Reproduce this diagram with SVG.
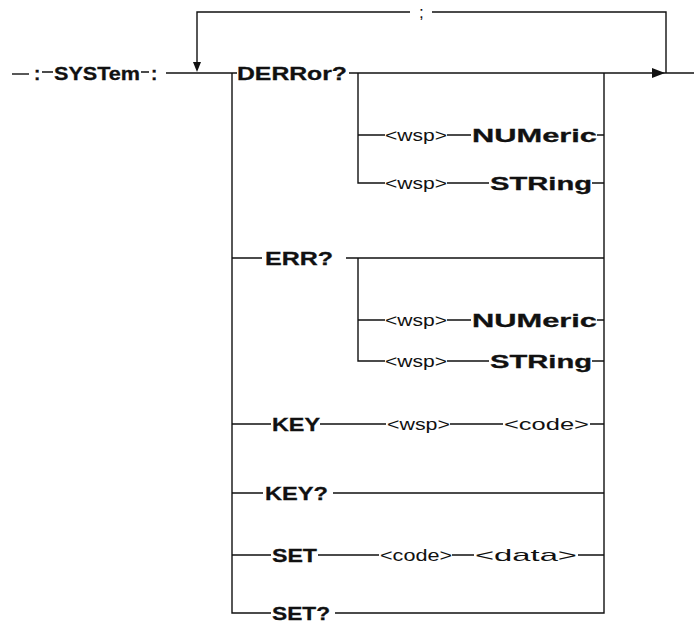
<svg xmlns="http://www.w3.org/2000/svg" width="694" height="639" viewBox="0 0 694 639">
<defs>
<style>
.ln{stroke:#111;stroke-width:1.4;fill:none}
.ah{fill:#111;stroke:none}
.b{font-family:"Liberation Sans",Arial,sans-serif;font-weight:bold;font-size:19px;fill:#111;stroke:#111;stroke-width:0.3}
.r{font-family:"Liberation Sans",Arial,sans-serif;font-size:17px;fill:#111}
</style>
</defs>
<rect width="694" height="639" fill="#fff"/>
<g id="connectors">
<path class="ln" d="M12,74 H29"/>
<path class="ln" d="M42,72 H53 M141,72 H149"/>
<path class="ln" d="M166,73 H237"/>
<path class="ln" d="M666,73 V12 H432 M410,12 H197 V64"/>
<polygon class="ah" points="193,62 201,62 197,72"/>
<path class="ln" d="M232,73 V613 H271"/>
<path class="ln" d="M335,613 H604 V73"/>
<path class="ln" d="M349,73 H694"/>
<polygon class="ah" points="652,68 652,78 665,73"/>
<path class="ln" d="M358,73 V183 H385"/>
<path class="ln" d="M358,135 H385 M447,135 H471 M597,135 H604"/>
<path class="ln" d="M447,183 H489 M592,183 H604"/>
<path class="ln" d="M232,258 H262 M346,258 H604"/>
<path class="ln" d="M358,258 V361 H385"/>
<path class="ln" d="M358,320 H385 M447,320 H471 M597,320 H604"/>
<path class="ln" d="M447,361 H489 M592,361 H604"/>
<path class="ln" d="M232,424 H271 M320,424 H386 M450,424 H503 M590,424 H604"/>
<path class="ln" d="M232,493 H263 M333,493 H604"/>
<path class="ln" d="M232,555 H271 M318,555 H379 M452,555 H474 M578,555 H604"/>
</g>
<g id="semicolon"><text class="r" x="419" y="18">;</text></g>
<g id="system">
<text class="b" x="34" y="80">:</text>
<text class="b" x="54" y="80" textLength="86" lengthAdjust="spacingAndGlyphs">SYSTem</text>
<text class="b" x="151" y="80">:</text>
</g>
<g id="derror"><text class="b" x="237" y="80" textLength="110" lengthAdjust="spacingAndGlyphs">DERRor?</text></g>
<g id="derror-num">
<text class="r" x="385" y="141" textLength="62" lengthAdjust="spacingAndGlyphs">&lt;wsp&gt;</text>
<text class="b" x="472" y="142" textLength="125" lengthAdjust="spacingAndGlyphs">NUMeric</text>
</g>
<g id="derror-str">
<text class="r" x="385" y="189" textLength="62" lengthAdjust="spacingAndGlyphs">&lt;wsp&gt;</text>
<text class="b" x="490" y="190" textLength="102" lengthAdjust="spacingAndGlyphs">STRing</text>
</g>
<g id="err"><text class="b" x="265" y="265" textLength="68" lengthAdjust="spacingAndGlyphs">ERR?</text></g>
<g id="err-num">
<text class="r" x="385" y="326" textLength="62" lengthAdjust="spacingAndGlyphs">&lt;wsp&gt;</text>
<text class="b" x="472" y="327" textLength="125" lengthAdjust="spacingAndGlyphs">NUMeric</text>
</g>
<g id="err-str">
<text class="r" x="385" y="367" textLength="62" lengthAdjust="spacingAndGlyphs">&lt;wsp&gt;</text>
<text class="b" x="490" y="368" textLength="102" lengthAdjust="spacingAndGlyphs">STRing</text>
</g>
<g id="key">
<text class="b" x="272" y="431" textLength="48" lengthAdjust="spacingAndGlyphs">KEY</text>
<text class="r" x="387" y="430" textLength="63" lengthAdjust="spacingAndGlyphs">&lt;wsp&gt;</text>
<text class="r" x="504" y="430" textLength="85" lengthAdjust="spacingAndGlyphs">&lt;code&gt;</text>
</g>
<g id="keyq"><text class="b" x="265" y="500" textLength="63" lengthAdjust="spacingAndGlyphs">KEY?</text></g>
<g id="set">
<text class="b" x="272" y="562" textLength="45" lengthAdjust="spacingAndGlyphs">SET</text>
<text class="r" x="380" y="561" textLength="72" lengthAdjust="spacingAndGlyphs">&lt;code&gt;</text>
<text class="r" x="475" y="561" textLength="102" lengthAdjust="spacingAndGlyphs">&lt;data&gt;</text>
</g>
<g id="setq"><text class="b" x="272" y="620" textLength="58" lengthAdjust="spacingAndGlyphs">SET?</text></g>
</svg>
